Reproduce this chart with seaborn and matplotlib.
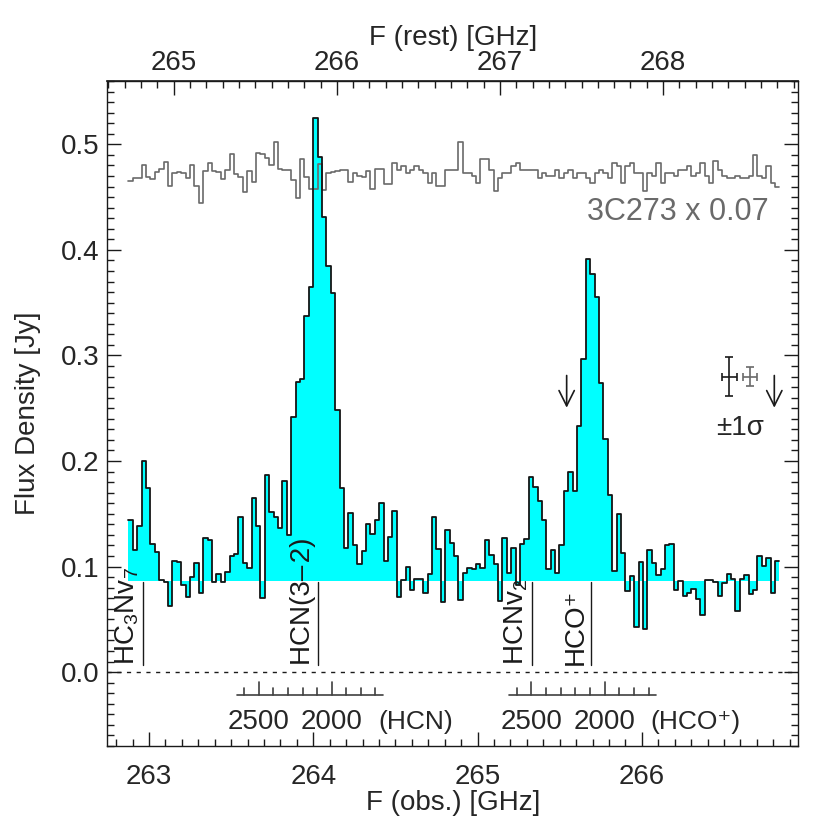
import numpy as np
import matplotlib
matplotlib.use("Agg")
import matplotlib.pyplot as plt
import seaborn as sns
from matplotlib.ticker import MultipleLocator, FixedLocator, FormatStrFormatter

# ---------------- data ----------------
flux = [0.144, 0.116, 0.138, 0.200, 0.174, 0.121, 0.114, 0.087, 0.085, 0.063,
        0.105, 0.104, 0.083, 0.071, 0.090, 0.103, 0.075, 0.127, 0.125, 0.085,
        0.093, 0.085, 0.095, 0.110, 0.112, 0.147, 0.103, 0.099, 0.165, 0.138,
        0.070, 0.187, 0.152, 0.147, 0.137, 0.181, 0.130, 0.242, 0.275, 0.278,
        0.337, 0.365, 0.525, 0.488, 0.431, 0.385, 0.359, 0.248, 0.174, 0.118,
        0.151, 0.120, 0.102, 0.115, 0.140, 0.131, 0.144, 0.160, 0.105, 0.128,
        0.153, 0.071, 0.087, 0.100, 0.078, 0.088, 0.088, 0.075, 0.093, 0.147,
        0.117, 0.066, 0.135, 0.122, 0.110, 0.068, 0.094, 0.099, 0.098, 0.102,
        0.099, 0.125, 0.111, 0.102, 0.067, 0.127, 0.094, 0.118, 0.083, 0.121,
        0.126, 0.185, 0.175, 0.162, 0.144, 0.098, 0.116, 0.094, 0.120, 0.172,
        0.190, 0.172, 0.233, 0.297, 0.391, 0.377, 0.355, 0.274, 0.221, 0.168,
        0.096, 0.150, 0.113, 0.077, 0.091, 0.043, 0.104, 0.041, 0.116, 0.103,
        0.092, 0.098, 0.120, 0.121, 0.078, 0.086, 0.072, 0.075, 0.079, 0.069,
        0.054, 0.087, 0.087, 0.085, 0.072, 0.084, 0.093, 0.088, 0.058, 0.088,
        0.092, 0.074, 0.078, 0.110, 0.101, 0.108, 0.075, 0.105]

calib = [0.465, 0.468, 0.468, 0.480, 0.469, 0.467, 0.4735, 0.477, 0.483, 0.4605,
         0.473, 0.4737, 0.473, 0.468, 0.480, 0.461, 0.444, 0.475, 0.482, 0.475,
         0.474, 0.467, 0.476, 0.4905, 0.472, 0.469, 0.455, 0.475, 0.464, 0.492,
         0.491, 0.487, 0.480, 0.502, 0.477, 0.476, 0.476, 0.466, 0.449, 0.486,
         0.469, 0.458, 0.458, 0.481, 0.457, 0.473, 0.474, 0.475, 0.476, 0.476,
         0.464, 0.473, 0.470, 0.469, 0.475, 0.458, 0.477, 0.477, 0.462, 0.462,
         0.482, 0.4757, 0.4795, 0.4732, 0.4757, 0.4795, 0.4757, 0.4732, 0.4635, 0.4732,
         0.4604, 0.4604, 0.4757, 0.4757, 0.4757, 0.502, 0.4732, 0.4732, 0.470, 0.4635,
         0.486, 0.486, 0.4757, 0.4556, 0.4677, 0.4732, 0.4732, 0.4795, 0.482, 0.4757,
         0.4757, 0.4757, 0.4757, 0.4677, 0.4732, 0.470, 0.470, 0.4757, 0.4677, 0.4732,
         0.4757, 0.4677, 0.4732, 0.4732, 0.4677, 0.4635, 0.4732, 0.4757, 0.4732, 0.4677,
         0.482, 0.4795, 0.4635, 0.4795, 0.482, 0.4732, 0.4732, 0.4556, 0.4732, 0.470,
         0.482, 0.4635, 0.4732, 0.4732, 0.470, 0.4757, 0.4757, 0.4795, 0.470, 0.4732,
         0.482, 0.470, 0.4635, 0.4844, 0.4757, 0.4704, 0.4677, 0.4677, 0.470, 0.4677,
         0.4677, 0.470, 0.490, 0.470, 0.4677, 0.4795, 0.4635, 0.460]

chan_start = 262.874      # GHz, left edge of first channel
chan_width = 0.02678      # GHz
baseline = 0.086          # Jy, continuum level
redshift = 0.00703
c_kms = 299792.458

line_names = ["HC$_3$Nv$_7$", "HCN(3\u2013\u200a2)", "HCNv$_2$", "HCO\u207a"]
line_rest = [264.810, 265.886, 267.199, 267.558]   # GHz

vel_ticks = [1700, 1800, 1900, 2000, 2100, 2200, 2300, 2400, 2500, 2600]
vel_major = [2000, 2500]
vel_scales = [("(HCN)", 265.886, 264.394), ("(HCO\u207a)", 267.558, 266.049)]

rest_ticks = [265, 266, 267, 268]

sigma_flux = 0.0183
sigma_cal = 0.0089

# ---------------- style ----------------
sns.set_theme(style="ticks")
plt.rcParams["font.family"] = ["Liberation Sans", "DejaVu Sans"]
plt.rcParams["mathtext.fontset"] = "custom"
plt.rcParams["mathtext.rm"] = "Liberation Sans"
plt.rcParams["mathtext.it"] = "Liberation Sans:italic"
plt.rcParams["mathtext.bf"] = "Liberation Sans:bold"

FS = 20

fig = plt.figure(figsize=(8.3, 8.3), dpi=100)
ax = fig.add_axes([0.1295, 0.1012, 0.8323, 0.8012])

n = len(flux)
edges = chan_start + chan_width * np.arange(n + 1)
yflux = np.append(flux, flux[-1])
ycal = np.append(calib, calib[-1])

ax.fill_between(edges, baseline, yflux, step="post", color="#00FFFF", lw=0, zorder=1)
sns.lineplot(x=edges, y=ycal, drawstyle="steps-post", color="#6a6a6a", lw=1.2,
             ax=ax, estimator=None, sort=False, zorder=2)
sns.lineplot(x=edges, y=yflux, drawstyle="steps-post", color="#151515", lw=1.3,
             ax=ax, estimator=None, sort=False, zorder=3)

ax.axhline(0.0, color="k", lw=1.0, ls=(0, (3, 4)), zorder=2)

# line markers
for name, fr in zip(line_names, line_rest):
    fo = fr / (1 + redshift)
    ax.plot([fo, fo], [0.007, 0.085], color="k", lw=1.0, zorder=4)
    ax.text(fo - 0.012, 0.007, name, rotation=90, ha="right", va="bottom",
            fontsize=FS, color="k", zorder=5)

# velocity scales
yl = -0.0213
for lab, f0, xlab in vel_scales:
    fv = lambda v: f0 * (1 - v / c_kms)
    ax.plot([fv(1650), fv(2650)], [yl, yl], color="#404040", lw=1.2)
    for v in vel_ticks:
        top = yl + (0.0124 if v in vel_major else 0.0061)
        ax.plot([fv(v), fv(v)], [yl, top], color="#404040", lw=1.2)
    for v in vel_major:
        ax.text(fv(v), -0.047, str(v), ha="center", va="center", fontsize=FS)
    ax.text(xlab, -0.047, lab, ha="left", va="center", fontsize=FS - 1)

# arrows
for xa in [265.542, 266.806]:
    ax.annotate("", xy=(xa, 0.2505), xytext=(xa, 0.281),
                arrowprops=dict(arrowstyle="->,head_length=0.5,head_width=0.25",
                                color="k", lw=1.2, mutation_scale=22,
                                shrinkA=0, shrinkB=0))

# 1 sigma error bars
ax.errorbar([266.532], [0.280], yerr=[sigma_flux], xerr=[0.0456], color="k",
            lw=1.2, capsize=3, capthick=1.2, fmt="none")
ax.errorbar([266.658], [0.280], yerr=[sigma_cal], xerr=[0.043], color="#6a6a6a",
            lw=1.2, capsize=3, capthick=1.2, fmt="none")
ax.text(266.597, 0.231, "\u00b11\u03c3", ha="center", va="center", fontsize=FS)
ax.text(266.77, 0.436, "3C273 x 0.07", ha="right", va="center", fontsize=FS + 2,
        color="#6a6a6a")

# axes
ax.set_xlim(262.747, 266.952)
ax.set_ylim(-0.07, 0.56)
ax.xaxis.set_major_locator(MultipleLocator(1))
ax.xaxis.set_minor_locator(MultipleLocator(0.1))
ax.yaxis.set_major_locator(MultipleLocator(0.1))
ax.yaxis.set_minor_locator(MultipleLocator(0.01))
ax.yaxis.set_major_formatter(FormatStrFormatter("%.1f"))
ax.tick_params(which="both", direction="in", top=False, right=True, labelsize=FS,
               color="k", width=1.0)
ax.tick_params(which="major", length=10)
ax.tick_params(which="minor", length=5)
ax.tick_params(axis="x", which="major", pad=13)
ax.tick_params(axis="y", which="major", pad=6)
for s in ax.spines.values():
    s.set_color("k")
    s.set_linewidth(1.0)

ax.set_xlabel("F (obs.) [GHz]", fontsize=FS, labelpad=0)
ax.set_ylabel("Flux Density [Jy]", fontsize=FS, labelpad=14)

sec = ax.secondary_xaxis("top", functions=(lambda f: f * (1 + redshift),
                                           lambda f: f / (1 + redshift)))
sec.xaxis.set_major_locator(FixedLocator(rest_ticks))
sec.xaxis.set_minor_locator(MultipleLocator(0.1))
sec.tick_params(which="both", direction="in", labelsize=FS, color="k", width=1.0)
sec.tick_params(which="major", length=10)
sec.tick_params(which="minor", length=5)
sec.set_xlabel("F (rest) [GHz]", fontsize=FS, labelpad=4)

fig.savefig("out.png", dpi=100, facecolor="white")
